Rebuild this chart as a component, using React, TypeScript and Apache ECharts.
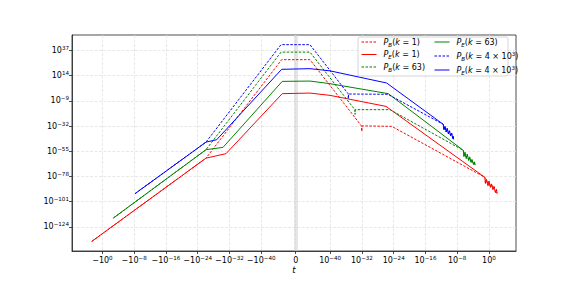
import React, { useEffect, useRef } from "react";
import * as echarts from "echarts";

// ---- tick definitions ----
const xTickExpNeg = [0, -8, -16, -24, -32, -40]; // -10^n
const xTickExpPos = [-40, -32, -24, -16, -8, 0]; // 10^n
const yTickExp = [37, 14, -9, -32, -55, -78, -101, -124]; // 10^n

// ---- data: time t and log10 of probability ----
const pb1T = [-500, -8e-27, -7e-46, 8e-46, 7.6e-33, 9.1e-33, 1.15e-32, 3.1e-25, 0.098, 0.13, 0.23, 0.56, 1.0, 2.4, 4.3, 10, 18, 44, 78, 105];
const pb1LogP = [-137.3, -61.3, 28.5, 28.5, -31.9, -36.9, -31.9, -32.3, -78.9, -84.35, -80.7, -86.2, -82.5, -88.0, -84.8, -89.8, -87.1, -92.6, -89.8, -93.5];

const pe1T = [-500, -8e-27, -7.4e-32, -5e-46, 8e-46, 9e-41, 1.15e-26, 0.098, 0.13, 0.23, 0.56, 1.0, 2.4, 4.3, 10, 18, 44, 78, 105];
const pe1LogP = [-137.3, -61.3, -57.25, -2.5, -1.96, -4.06, -14.1, -78.9, -84.35, -80.7, -86.2, -82.5, -88.0, -84.8, -89.8, -87.1, -92.6, -89.8, -93.5];

const pb63T = [-1.8e-3, -8e-27, -1e-45, 8e-46, 1.6e-34, 1.86e-34, 2.2e-34, 1.15e-25, 3.4e-7, 5e-7, 8.9e-7, 1.9e-6, 3.4e-6, 7.8e-6, 1.4e-5, 3e-5, 5.2e-5, 1.26e-4, 2.2e-4, 3e-4];
const pb63LogP = [-116, -53.6, 35.4, 35.4, -17.1, -21.4, -17.1, -17.1, -54.2, -59.7, -56.1, -61.5, -57.9, -63.4, -60.2, -65.2, -62.5, -67.0, -64.7, -67.5];

const pe63T = [-1.8e-3, -8e-27, -4.2e-31, -5e-46, 8e-46, 9e-41, 4.3e-26, 3.4e-7, 5e-7, 8.9e-7, 1.9e-6, 3.4e-6, 7.8e-6, 1.4e-5, 3e-5, 5.2e-5, 1.26e-4, 2.2e-4, 3e-4];
const pe63LogP = [-116, -53.6, -51.5, 8.7, 9.0, 6.6, -2.5, -54.2, -59.7, -56.1, -61.5, -57.9, -63.4, -60.2, -65.2, -62.5, -67.0, -64.7, -67.5];

const pb4kT = [-6e-9, -8e-27, -1e-45, 8e-46, 3.2e-36, 3.8e-36, 4.6e-36, 3.6e-26, 3.1e-12, 4.7e-12, 8.3e-12, 1.66e-11, 2.95e-11, 6.3e-11, 1.12e-10, 2.24e-10, 4e-10, 7.6e-10, 1.02e-9, 1.2e-9];
const pb4kLogP = [-93.7, -46.7, 42.2, 42.2, -2.5, -7.1, -2.8, -3.1, -30.5, -35.5, -32.3, -37.4, -34.2, -39.2, -36.4, -41.0, -38.7, -43.3, -41.5, -44.2];

const pe4kT = [-6e-9, -8e-27, -1.6e-29, -7e-46, 8e-46, 9e-41, 1.7e-26, 3.1e-12, 4.7e-12, 8.3e-12, 1.66e-11, 2.95e-11, 6.3e-11, 1.12e-10, 2.24e-10, 4e-10, 7.6e-10, 1.02e-9, 1.2e-9];
const pe4kLogP = [-93.7, -46.7, -44.5, 19.7, 20.3, 18.3, 7.2, -30.5, -35.5, -32.3, -37.4, -34.2, -39.2, -36.4, -41.0, -38.7, -43.3, -41.5, -44.2];

// ---- symlog scale (matplotlib style) ----
const LINTHRESH = 1e-47;
const LINSCALE = 1.69;
function symlog(t: number): number {
  const a = Math.abs(t);
  if (a <= LINTHRESH) return (t / LINTHRESH) * LINSCALE;
  return Math.sign(t) * (LINSCALE + Math.log10(a / LINTHRESH));
}

const MINUS = "\u2212";
const fmtExp = (n: number) => (n < 0 ? MINUS + Math.abs(n) : String(n));

const xTicks: { v: number; label: string }[] = [
  ...xTickExpNeg.map((n) => ({ v: symlog(-Math.pow(10, n)), label: `{b|${MINUS}10}{s|${fmtExp(n)}}` })),
  { v: 0, label: "{b|0}" },
  ...xTickExpPos.map((n) => ({ v: symlog(Math.pow(10, n)), label: `{b|10}{s|${fmtExp(n)}}` })),
];

const RED = "#ff0000";
const GREEN = "#008000";
const BLUE = "#0000ff";
const FONT = "DejaVu Sans";

const legendLabels: Record<string, string> = {
  PB1: "{i|P}{sb|B}{n|(}{i|k}{n| = 1)}",
  PE1: "{i|P}{sb|E}{n|(}{i|k}{n| = 1)}",
  PB63: "{i|P}{sb|B}{n|(}{i|k}{n| = 63)}",
  PE63: "{i|P}{sb|E}{n|(}{i|k}{n| = 63)}",
  PB4k: "{i|P}{sb|B}{n|(}{i|k}{n| = 4 × 10}{sp|3}{n|)}",
  PE4k: "{i|P}{sb|E}{n|(}{i|k}{n| = 4 × 10}{sp|3}{n|)}",
};

const legendRich = {
  i: { fontFamily: FONT, fontSize: 8, fontStyle: "italic", color: "#000", lineHeight: 11 },
  n: { fontFamily: FONT, fontSize: 8, color: "#000", lineHeight: 11 },
  sb: { fontFamily: FONT, fontSize: 5.6, fontStyle: "italic", color: "#000", lineHeight: 11, verticalAlign: "bottom", padding: [3, 0, 0, 0] },
  sp: { fontFamily: FONT, fontSize: 5.6, color: "#000", lineHeight: 11, verticalAlign: "top", padding: [0, 0, 3, 0] },
};

const axisRich = {
  b: { fontFamily: FONT, fontSize: 8, color: "#000", lineHeight: 12 },
  s: { fontFamily: FONT, fontSize: 5.6, color: "#000", lineHeight: 12, padding: [0, 0, 5, 0] },
};

function mk(name: string, ts: number[], ps: number[], color: string, dashed: boolean, extra: any = {}) {
  return {
    name,
    type: "line",
    data: ts.map((t, i) => [symlog(t), ps[i]]),
    symbol: "none",
    showSymbol: false,
    lineStyle: { color, width: 1, type: dashed ? [2.5, 1.5] : "solid" },
    itemStyle: { color },
    emphasis: { disabled: true },
    z: 5,
    ...extra,
  };
}

const legendBase = {
  top: 38,
  orient: "vertical",
  itemWidth: 15,
  itemHeight: 8,
  itemGap: 3,
  z: 30,
  padding: 0,
  selectedMode: false,
  itemStyle: { opacity: 0 },
  lineStyle: { width: 1 },
  formatter: (n: string) => legendLabels[n],
  textStyle: { rich: legendRich, fontSize: 8, padding: [0, 0, 0, 2] },
};

export default function App() {
  const ref = useRef<HTMLDivElement>(null);
  useEffect(() => {
    if (!ref.current) return;
    const chart = echarts.init(ref.current, undefined, { renderer: "svg" });
    const option: any = {
      animation: false,
      backgroundColor: "#fff",
      grid: { left: 72, right: 58, top: 35, bottom: 36, show: true, borderColor: "#222", borderWidth: 0.8, backgroundColor: "transparent" },
      xAxis: {
        type: "value",
        min: -56.35,
        max: 55.5,
        axisLine: { show: true, onZero: false, lineStyle: { color: "#222", width: 0.8 } },
        axisTick: { show: true, length: 3, customValues: xTicks.map((d) => d.v), lineStyle: { color: "#222", width: 0.8 } },
        axisLabel: {
          customValues: xTicks.map((d) => d.v),
          margin: 3,
          formatter: (v: number) => {
            let best = xTicks[0];
            for (const d of xTicks) if (Math.abs(d.v - v) < Math.abs(best.v - v)) best = d;
            return best.label;
          },
          rich: axisRich,
        },
        splitLine: { show: true, lineStyle: { color: "#e2e2e2", width: 0.8, type: [3, 1.5] } },
      },
      yAxis: {
        type: "value",
        min: -146,
        max: 51,
        axisLine: { show: true, onZero: false, lineStyle: { color: "#222", width: 0.8 } },
        axisTick: { show: true, length: 3, customValues: yTickExp, lineStyle: { color: "#222", width: 0.8 } },
        axisLabel: {
          customValues: yTickExp,
          margin: 3,
          formatter: (v: number) => `{b|10}{s|${fmtExp(Math.round(v))}}`,
          rich: axisRich,
        },
        splitLine: { show: true, lineStyle: { color: "#e2e2e2", width: 0.8, type: [3, 1.5] } },
      },
      graphic: [
        {
          type: "rect",
          z: 20,
          shape: { x: 358, y: 37, width: 150, height: 39, r: 2 },
          style: { fill: "rgba(255,255,255,0.85)", stroke: "#cccccc", lineWidth: 0.8 },
        },
        {
          type: "text",
          z: 20,
          x: 294,
          y: 270,
          style: { text: "t", fontFamily: FONT, fontStyle: "italic", fontSize: 8.5, fill: "#000", align: "center", verticalAlign: "middle" },
        },
      ],
      legend: [
        { ...legendBase, data: ["PB1", "PE1", "PB63"], left: 361 },
        { ...legendBase, data: ["PE63", "PB4k", "PE4k"], left: 434 },
      ],
      series: [
        mk("PB1", pb1T, pb1LogP, RED, true, {
          markLine: {
            silent: true,
            symbol: "none",
            label: { show: false },
            z: 1,
            lineStyle: { color: "rgba(205,205,205,0.5)", width: 4, type: "solid" },
            data: [{ xAxis: 0 }],
          },
        }),
        mk("PE1", pe1T, pe1LogP, RED, false),
        mk("PB63", pb63T, pb63LogP, GREEN, true),
        mk("PE63", pe63T, pe63LogP, GREEN, false),
        mk("PB4k", pb4kT, pb4kLogP, BLUE, true),
        mk("PE4k", pe4kT, pe4kLogP, BLUE, false),
      ],
    };
    chart.setOption(option);
    return () => chart.dispose();
  }, []);
  return <div ref={ref} style={{ position: "fixed", left: 0, top: 0, width: 574, height: 287 }} />;
}
